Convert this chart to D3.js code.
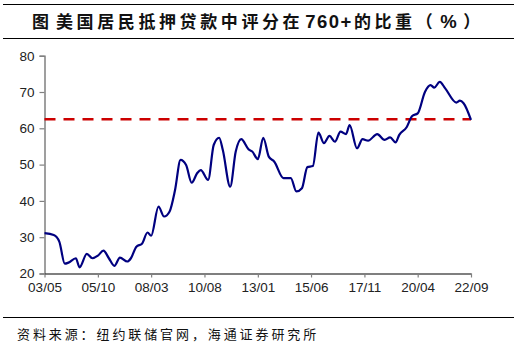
<!DOCTYPE html>
<html>
<head>
<meta charset="utf-8">
<script src="https://cdn.jsdelivr.net/npm/d3@7"></script>
<style>
  html, body { margin: 0; padding: 0; background: #fff; }
  svg { display: block; }
</style>
</head>
<body>
<svg id="chart" width="524" height="349"></svg>
<script>
// ---- data ----
const dates = [
  "2003-05","2003-10","2004-01","2004-04","2004-06","2004-10","2004-12","2005-04","2005-07","2005-10",
  "2006-01","2006-04","2006-07","2006-10","2007-02","2007-04","2007-07","2007-10","2008-01","2008-03",
  "2008-07","2008-10","2009-01","2009-04","2009-07","2009-10","2010-01","2010-04","2010-06","2010-10",
  "2011-01","2011-04","2011-06","2011-10","2012-01","2012-04","2012-08","2012-10","2013-01","2013-04",
  "2013-07","2013-10","2014-03","2014-07","2014-10","2015-01","2015-04","2015-07","2015-10","2016-01",
  "2016-04","2016-07","2016-10","2017-01","2017-03","2017-07","2017-10","2018-01","2018-06","2018-10",
  "2019-01","2019-04","2019-06","2019-10","2020-01","2020-04","2020-08","2020-11","2021-01","2021-04",
  "2021-07","2022-01","2022-03","2022-05","2022-09"
];
const share760 = [
  31.1,30.6,28.8,22.7,23.0,24.2,21.7,25.4,24.2,24.9,
  26.3,24.2,22.1,24.4,23.3,24.2,27.4,28.2,31.3,30.4,
  38.4,35.7,37.1,43.0,51.3,49.9,45.0,47.6,48.5,45.8,
  55.4,57.4,54.0,43.9,53.6,57.0,54.2,53.6,51.5,57.4,
  52.2,50.8,46.3,46.3,42.6,43.5,49.3,49.6,58.8,55.9,
  57.9,56.3,59.1,58.4,60.9,54.5,57.0,56.6,58.4,56.8,
  57.5,56.1,58.2,60.3,63.4,64.1,70.1,71.9,71.2,72.8,
  71.0,67.1,67.6,66.9,62.3
];
const refLevel = 62.5;
const xTickLabels = ["03/05","05/10","08/03","10/08","13/01","15/06","17/11","20/04","22/09"];
const yTicks = [20,30,40,50,60,70,80];
const titleFig = "图";
const titleMain = "美国居民抵押贷款中评分在";
const titleNum = "760+";
const titleTail = "的比重（";
const titlePct = "%";
const titleClose = "）";
const sourceText = "资料来源：纽约联储官网，海通证券研究所";

// ---- layout ----
const svg = d3.select("#chart");
const plot = { left: 44.5, right: 471, top: 55.7, bottom: 273.5 };
const parse = d3.timeParse("%Y-%m");
const tickParse = d3.timeParse("%y/%m");
const data = dates.map((d, i) => ({ date: parse(d), v: share760[i] }));
const tickDates = xTickLabels.map(t => tickParse(t));

const x = d3.scaleTime()
  .domain([tickDates[0], tickDates[tickDates.length - 1]])
  .range([plot.left, plot.right]);
const y = d3.scaleLinear().domain([20, 80]).range([plot.bottom, plot.top]);

// title rules
svg.append("line").attr("x1", 3).attr("x2", 514).attr("y1", 4.5).attr("y2", 4.5)
  .attr("stroke", "#000").attr("stroke-width", 1.2);
svg.append("line").attr("x1", 3).attr("x2", 514).attr("y1", 38.5).attr("y2", 38.5)
  .attr("stroke", "#000").attr("stroke-width", 1.2);

const cjk = "'Noto Sans CJK SC', sans-serif";
const lat = "'Liberation Sans', Arial, sans-serif";
const title = svg.append("text").attr("y", 27.5)
  .attr("font-family", cjk)
  .attr("font-size", 17).attr("font-weight", "bold").attr("fill", "#111")
  .attr("letter-spacing", 3.6);
title.append("tspan").attr("x", 32).text(titleFig);
title.append("tspan").attr("x", 56).text(titleMain);
title.append("tspan").attr("font-family", lat).attr("letter-spacing", 1.5)
  .attr("font-size", 18.5).attr("dx", 2).text(titleNum);
title.append("tspan").attr("dx", 1).text(titleTail);
title.append("tspan").attr("font-family", lat).attr("font-size", 18.5)
  .attr("dx", 4).text(titlePct);
title.append("tspan").attr("dx", 3).text(titleClose);

// y axis
const yAxis = d3.axisLeft(y).tickValues(yTicks).tickSize(5).tickPadding(5);
const gy = svg.append("g").attr("transform", `translate(${plot.left},0)`).call(yAxis);
gy.select(".domain").attr("stroke", "#808080").attr("stroke-width", 1.5);
gy.selectAll(".tick line").attr("stroke", "#808080").attr("stroke-width", 1.2);
gy.selectAll(".tick text").attr("font-family", lat)
  .attr("font-size", 13.5).attr("fill", "#222");

// x axis
const xAxis = d3.axisBottom(x).tickValues(tickDates)
  .tickFormat((d, i) => xTickLabels[i]).tickSize(4).tickPadding(5).tickSizeOuter(0);
const gx = svg.append("g").attr("transform", `translate(0,${plot.bottom})`).call(xAxis);
gx.select(".domain").attr("stroke", "#000").attr("stroke-width", 1.2);
gx.selectAll(".tick line").attr("stroke", "#808080").attr("stroke-width", 1.2);
gx.selectAll(".tick text").attr("font-family", lat)
  .attr("font-size", 13.5).attr("fill", "#222");

// reference line
svg.append("line")
  .attr("x1", x(data[0].date)).attr("x2", x(data[data.length - 1].date))
  .attr("y1", y(refLevel)).attr("y2", y(refLevel))
  .attr("stroke", "#cc0000").attr("stroke-width", 2.5)
  .attr("stroke-dasharray", "11,8");

// series line
const line = d3.line().x(d => x(d.date)).y(d => y(d.v)).curve(d3.curveMonotoneX);
svg.append("path").datum(data).attr("d", line)
  .attr("fill", "none").attr("stroke", "#000080").attr("stroke-width", 2.2)
  .attr("stroke-linejoin", "round");

// footer
svg.append("line").attr("x1", 3).attr("x2", 514).attr("y1", 317.5).attr("y2", 317.5)
  .attr("stroke", "#000").attr("stroke-width", 1.2);
svg.append("text").attr("x", 17).attr("y", 339)
  .attr("font-family", cjk)
  .attr("font-size", 13).attr("fill", "#111").attr("letter-spacing", 2.9)
  .text(sourceText);
</script>
</body>
</html>
